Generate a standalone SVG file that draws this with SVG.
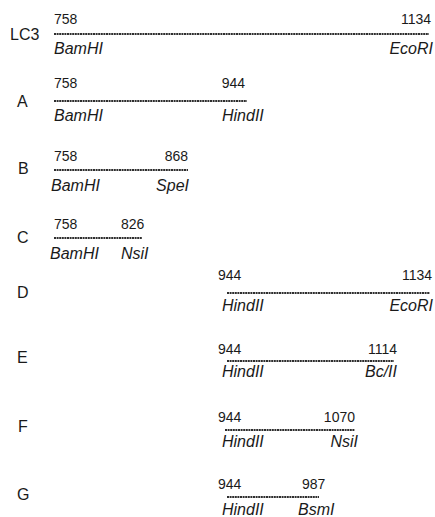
<svg xmlns="http://www.w3.org/2000/svg" width="435" height="517" viewBox="0 0 435 517">
  <style>
    .row { font-family: "Liberation Sans", Arial, sans-serif; font-size: 16px; fill: #1a1a1a; }
    .pos { font-family: "Liberation Sans", Arial, sans-serif; font-size: 14px; fill: #1a1a1a; }
    .site { font-family: "Liberation Sans", Arial, sans-serif; font-size: 16px; font-style: italic; fill: #1a1a1a; }
    .end { text-anchor: end; }
    .frag { stroke: #2e2e2e; stroke-width: 1.8; stroke-dasharray: 2 0.6; fill: none; }
  </style>
  <rect width="435" height="517" fill="#ffffff"/>

  <!-- fragment lines -->
  <g id="connectors">
    <line class="frag" x1="54" y1="34" x2="429" y2="34"/>
    <line class="frag" x1="54" y1="101" x2="247" y2="101"/>
    <line class="frag" x1="54" y1="170" x2="188" y2="170"/>
    <line class="frag" x1="54" y1="238" x2="142" y2="238"/>
    <line class="frag" x1="227" y1="293" x2="430" y2="293"/>
    <line class="frag" x1="227" y1="361" x2="394" y2="361"/>
    <line class="frag" x1="225" y1="430" x2="355" y2="430"/>
    <line class="frag" x1="227" y1="497" x2="319" y2="497"/>
  </g>

  <g id="LC3">
    <text class="row" x="10" y="40">LC3</text>
    <text class="pos" x="54" y="24">758</text>
    <text class="pos end" x="431" y="24">1134</text>
    <text class="site" x="54" y="54">BamHI</text>
    <text class="site end" x="433" y="54">EcoRI</text>
  </g>

  <g id="A">
    <text class="row" x="17" y="107">A</text>
    <text class="pos" x="54" y="88">758</text>
    <text class="pos end" x="245" y="88">944</text>
    <text class="site" x="54" y="121">BamHI</text>
    <text class="site" x="222" y="121">HindII</text>
  </g>

  <g id="B">
    <text class="row" x="18" y="174">B</text>
    <text class="pos" x="54" y="161">758</text>
    <text class="pos end" x="188" y="161">868</text>
    <text class="site" x="51" y="191">BamHI</text>
    <text class="site end" x="189" y="191">SpeI</text>
  </g>

  <g id="C">
    <text class="row" x="17" y="243">C</text>
    <text class="pos" x="54" y="229">758</text>
    <text class="pos" x="121" y="229">826</text>
    <text class="site" x="50" y="259">BamHI</text>
    <text class="site" x="121" y="259">NsiI</text>
  </g>

  <g id="D">
    <text class="row" x="17" y="298">D</text>
    <text class="pos" x="218" y="280">944</text>
    <text class="pos end" x="432" y="280">1134</text>
    <text class="site" x="222" y="311">HindII</text>
    <text class="site end" x="433" y="311">EcoRI</text>
  </g>

  <g id="E">
    <text class="row" x="17" y="363">E</text>
    <text class="pos" x="218" y="354">944</text>
    <text class="pos end" x="397" y="354">1114</text>
    <text class="site" x="222" y="377">HindII</text>
    <text class="site end" x="397" y="377">Bc/II</text>
  </g>

  <g id="F">
    <text class="row" x="18" y="432">F</text>
    <text class="pos" x="218" y="422">944</text>
    <text class="pos end" x="355" y="422">1070</text>
    <text class="site" x="222" y="447">HindII</text>
    <text class="site end" x="358" y="447">NsiI</text>
  </g>

  <g id="G">
    <text class="row" x="17" y="500">G</text>
    <text class="pos" x="218" y="489">944</text>
    <text class="pos" x="302" y="489">987</text>
    <text class="site" x="222" y="515">HindII</text>
    <text class="site" x="298" y="515">BsmI</text>
  </g>
</svg>
